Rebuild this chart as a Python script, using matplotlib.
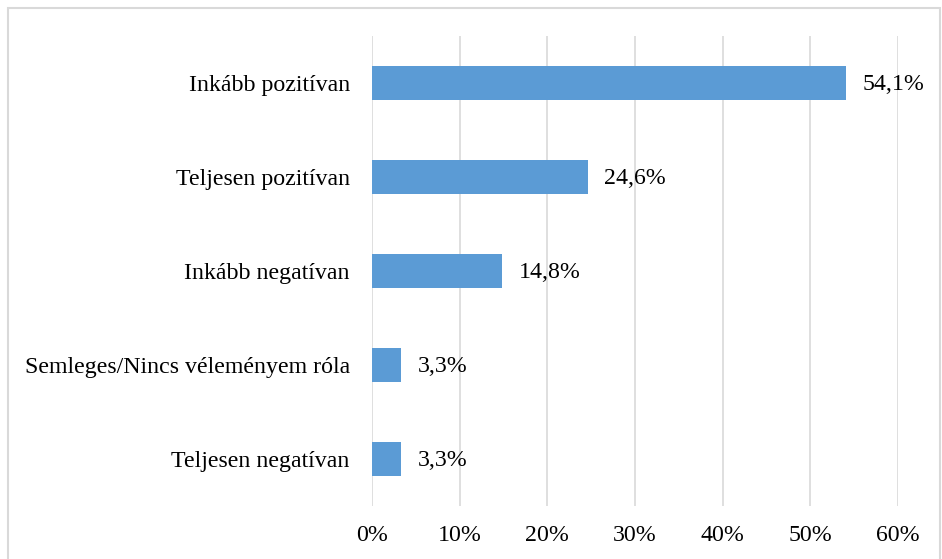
import matplotlib.pyplot as plt
from matplotlib.patches import Rectangle

categories = ['Teljesen negatívan', 'Semleges/Nincs véleményem róla',
              'Inkább negatívan', 'Teljesen pozitívan', 'Inkább pozitívan']
values = [3.3, 3.3, 14.8, 24.6, 54.1]
xticks = [0, 10, 20, 30, 40, 50, 60]

plt.rcParams['font.family'] = ['Liberation Serif', 'DejaVu Serif']
fs = 17.2

fig = plt.figure(figsize=(9.42, 5.59), dpi=100)
ax = fig.add_axes([372 / 942, 1 - 506 / 559, (898 - 372) / 942, (506 - 36) / 559])

ax.barh(range(len(categories)), values, height=0.36, color='#5B9BD5', zorder=3)
for i, v in enumerate(values):
    ax.annotate(f'{v:.1f}%'.replace('.', ','), (v, i), xytext=(12, -1),
                textcoords='offset points', va='center', ha='left', fontsize=fs)

ax.set_xlim(0, 60)
ax.set_ylim(-0.5, len(categories) - 0.5)
ax.set_xticks(xticks)
ax.set_xticklabels([f'{t}%' for t in xticks], fontsize=fs)
ax.set_yticks(range(len(categories)))
ax.set_yticklabels(categories, fontsize=fs)
ax.tick_params(axis='both', length=0)
ax.tick_params(axis='y', pad=16)
ax.tick_params(axis='x', pad=14)
ax.grid(axis='x', color='#d9d9d9', linewidth=1.2, zorder=0)
for s in ax.spines.values():
    s.set_visible(False)

fig.patches.append(Rectangle((7.5 / 942, -0.05), (940 - 7.5) / 942, 1.05 - 7.5 / 559,
                             transform=fig.transFigure, fill=False,
                             edgecolor='#d9d9d9', linewidth=1.5))

fig.savefig('out.png', dpi=100)
